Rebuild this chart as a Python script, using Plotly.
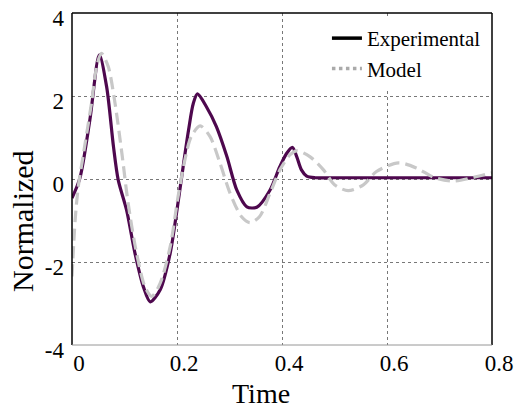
import plotly.graph_objects as go

# Experimental (measured) series
t_exp = [0.0, 0.015, 0.034, 0.052, 0.066, 0.079, 0.088, 0.104, 0.12, 0.136, 0.149,
         0.168, 0.187, 0.199, 0.209, 0.222, 0.231, 0.239, 0.256, 0.275, 0.295, 0.314,
         0.333, 0.352, 0.377, 0.396, 0.409, 0.42, 0.428, 0.437, 0.447, 0.463,
         0.5, 0.6, 0.7, 0.8]
v_exp = [-0.46, 0.02, 1.42, 2.99, 2.22, 0.78, -0.02, -0.75, -1.79, -2.6, -2.96,
         -2.67, -1.79, -0.83, 0.06, 1.18, 1.82, 2.05, 1.74, 1.26, 0.54, -0.27,
         -0.67, -0.68, -0.27, 0.30, 0.62, 0.76, 0.54, 0.22, 0.07, 0.03,
         0.03, 0.03, 0.03, 0.03]

# Model series
t_mod = [0.0, 0.006, 0.012, 0.022, 0.037, 0.047, 0.056, 0.069, 0.082, 0.095, 0.107,
         0.123, 0.139, 0.152, 0.168, 0.187, 0.202, 0.215, 0.227, 0.244, 0.263, 0.282,
         0.301, 0.323, 0.339, 0.357, 0.377, 0.396, 0.415, 0.428, 0.453, 0.479, 0.5,
         0.526, 0.555, 0.58, 0.622, 0.657, 0.689, 0.727, 0.765, 0.8]
v_mod = [-2.35, -0.99, -0.18, 0.62, 1.82, 2.71, 3.03, 2.71, 1.82, 0.62, -0.59,
         -1.79, -2.6, -2.83, -2.51, -1.63, -0.43, 0.46, 1.02, 1.28, 1.02, 0.38,
         -0.34, -0.91, -1.05, -0.91, -0.35, 0.22, 0.58, 0.68, 0.54, 0.22, -0.14,
         -0.28, -0.14, 0.18, 0.39, 0.26, 0.04, -0.05, 0.04, 0.15]

x_ticks = [0, 0.2, 0.4, 0.6, 0.8]
x_labels = ["0", "0.2", "0.4", "0.6", "0.8"]
y_ticks = [-4, -2, 0, 2, 4]
y_labels = ["-4", "-2", "0", "2", "4"]

FONT = "Liberation Serif, Times New Roman, serif"

fig = go.Figure()
fig.add_trace(go.Scatter(x=t_exp, y=v_exp, mode="lines", showlegend=False,
                         line=dict(color="rgb(78,8,78)", width=3.2, shape="spline", smoothing=0.8)))
fig.add_trace(go.Scatter(x=t_mod, y=v_mod, mode="lines", showlegend=False,
                         line=dict(color="rgb(200,200,200)", width=3.2, dash="12px,6px",
                                   shape="spline", smoothing=0.8)))
# legend entries
fig.add_trace(go.Scatter(x=[None], y=[None], mode="lines", name="Experimental",
                         line=dict(color="black", width=3.5)))
fig.add_trace(go.Scatter(x=[None], y=[None], mode="lines", name="Model",
                         line=dict(color="rgb(170,170,170)", width=3.5, dash="dot")))

grid = dict(showgrid=True, gridcolor="rgb(120,120,120)", gridwidth=1, griddash="dot",
            zeroline=False, ticks="", automargin=False,
            tickfont=dict(family=FONT, size=23, color="black"))

fig.update_layout(
    width=517, height=408,
    margin=dict(l=72, r=25, t=13, b=63),
    paper_bgcolor="white", plot_bgcolor="white",
    font=dict(family=FONT, color="black"),
    xaxis=dict(range=[0, 0.8], tickvals=x_ticks, ticktext=x_labels,
               ticklabelshift=7, ticklabelstandoff=2, **grid),
    yaxis=dict(range=[-4, 4], tickvals=y_ticks, ticktext=y_labels,
               ticklabelshift=5, ticklabelstandoff=7, **grid),
    legend=dict(x=0.607, y=0.985, xanchor="left", yanchor="top", bgcolor="white",
                borderwidth=0, font=dict(family=FONT, size=21, color="black"),
                tracegroupgap=0),
    annotations=[
        dict(text="Time", xref="paper", yref="paper", x=0.45, y=-0.147,
             xanchor="center", yanchor="middle", showarrow=False,
             font=dict(family=FONT, size=28, color="black")),
        dict(text="Normalized", xref="paper", yref="paper", x=-0.1167, y=0.3735,
             xanchor="center", yanchor="middle", showarrow=False, textangle=-90,
             font=dict(family=FONT, size=30, color="black")),
    ],
    shapes=[
        dict(type="line", xref="paper", yref="paper", x0=0, x1=0, y0=0, y1=1,
             line=dict(color="black", width=1.5)),
        dict(type="line", xref="paper", yref="paper", x0=0, x1=1, y0=1, y1=1,
             line=dict(color="black", width=1.5)),
        dict(type="line", xref="paper", yref="paper", x0=1, x1=1, y0=0, y1=1,
             line=dict(color="black", width=1.5)),
        dict(type="line", xref="paper", yref="paper", x0=0, x1=1, y0=0, y1=0,
             line=dict(color="rgb(150,150,150)", width=1)),
    ],
)

fig.write_html("out.html", config={"displayModeBar": False},
               post_script="document.body.style.margin='0';document.body.style.overflow='hidden';")
